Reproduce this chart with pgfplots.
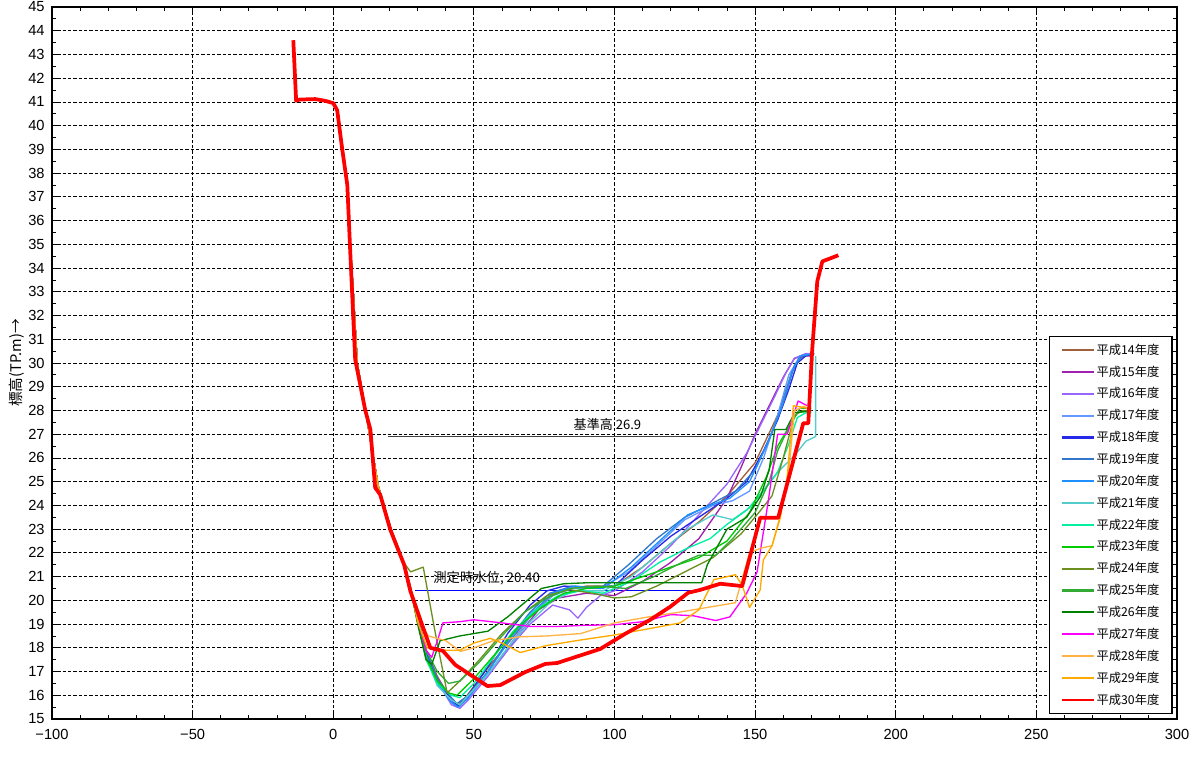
\documentclass[border=0pt]{standalone}
\usepackage{fontspec}
\setmainfont{Liberation Sans}
\newfontfamily\jp{Noto Sans CJK JP}
\usepackage{pgfplots}
\pgfplotsset{compat=1.18}
\definecolor{cA}{HTML}{A0603C}
\definecolor{cB}{HTML}{A020B0}
\definecolor{cC}{HTML}{9966FF}
\definecolor{cD}{HTML}{6699FF}
\definecolor{cE}{HTML}{2828E8}
\definecolor{cF}{HTML}{3377CC}
\definecolor{cG}{HTML}{1E90FF}
\definecolor{cH}{HTML}{55CCCC}
\definecolor{cI}{HTML}{00F0A0}
\definecolor{cJ}{HTML}{00CC00}
\definecolor{cK}{HTML}{6B9020}
\definecolor{cL}{HTML}{33AA33}
\definecolor{cM}{HTML}{008000}
\definecolor{cN}{HTML}{FF00FF}
\definecolor{cO}{HTML}{FFB347}
\definecolor{cP}{HTML}{FFAA00}
\definecolor{cQ}{HTML}{FF0000}
\begin{document}
\begin{tikzpicture}
\begin{axis}[
  scale only axis, width=843.75pt, height=534pt,
  xmin=-100, xmax=300, ymin=15, ymax=45,
  xtick={-100,-50,0,50,100,150,200,250,300},
  xticklabels={−100,−50,0,50,100,150,200,250,300},
  ytick={15,16,...,45},
  minor x tick num=4, minor y tick num=1,
  major tick length=4pt, minor tick length=3pt,
  tick style={black, line width=0.6pt},
  grid=major,
  major grid style={black, line width=0.6pt, dash pattern=on 2.4pt off 1.6pt},
  axis line style={black, line width=0.8pt},
  /pgf/number format/assume math mode=true,
  tick label style={font=\fontsize{11}{12}\selectfont},
  yticklabel style={xshift=-2pt},
  xticklabel style={yshift=-4pt},
  ylabel={\jp 標高(TP.m)→},
  ylabel style={font=\jp\fontsize{11}{12}\selectfont, yshift=-4pt},
  legend style={at={(rel axis cs:0.996,0.007)}, anchor=south east,
    draw=black, line width=0.8pt, fill=white,
    font=\jp\fontsize{9.2}{10}\selectfont,
    nodes={minimum height=16.4pt, inner ysep=0pt, inner xsep=1.5pt},
    row sep=0pt, inner xsep=8pt, inner ysep=2pt},
  legend cell align=left,
  legend image code/.code={\draw[line width=1.6pt,#1] (0pt,0pt) -- (24pt,0pt);},
  every axis plot/.append style={line width=1pt, line join=round},
]
% 基準高 and water level
\addplot[color=black!75, line width=1.1pt, forget plot] coordinates {(19.6,26.9)(150,26.9)};
\addplot[color=blue, line width=0.8pt, forget plot] coordinates {(29,20.4)(130,20.4)};

\addplot[color=cA] coordinates {(0,40.9)(1.5,40.6)(3,39.2)(5,37.6)(6,35)(7.2,32.8)(8.5,30)(11.5,28)(14,26.2)(16,24.8)(18,24.0)(20.5,23)(25,21.6)(27.5,20.5)
(30,19.4)(33,17.9)(37,16.8)(42,15.8)(44,15.6)(47,15.9)(52,16.7)(58,17.6)(65,18.6)(72,19.6)(80,20.4)(90,20.6)(100,20.6)(110,21.4)(120,22.4)(130,23.3)(140,24.4)(150,25.8)(158,27.8)(163,29.6)(166,30.2)(170,30.4)};
\addlegendentry{平成14年度}
\addplot[color=cB] coordinates {(0,40.9)(1.5,40.6)(3,39.2)(5,37.6)(6,35)(7.2,32.8)(8.5,30)(11.5,28)(14,26.2)(16,24.8)(18,24.0)(20.5,23)(25,21.6)(27.5,20.5)
(30,19.3)(33,17.8)(37,16.6)(42,15.7)(44.5,15.5)(48,15.9)(53,16.7)(60,17.6)(67,18.7)(73,19.6)(80,20.1)(90,20.3)(100,20.2)(110,20.8)(120,21.6)(130,22.6)(140,24.3)(145,25.6)(150,27.0)(155,28.2)(160,29.4)(164,30.2)(168,30.3)(170,30.3)};
\addlegendentry{平成15年度}
\addplot[color=cC] coordinates {(0,40.9)(1.5,40.6)(3,39.2)(5,37.6)(6,35)(7.2,32.8)(8.5,30)(11.5,28)(14,26.2)(16,24.8)(18,24.0)(20.5,23)(25,21.6)(27.5,20.5)
(30,19.3)(33,17.8)(37,16.6)(42,15.6)(45,15.45)(48,15.8)(55,16.8)(62,17.9)(70,19.0)(78,19.8)(84,19.6)(87,19.25)(90,19.7)(95,20.2)(100,20.4)(110,21.2)(120,22.3)(130,23.6)(140,24.9)(147,26.2)(152,27.4)(157,28.6)(161,29.6)(164,30.2)(168,30.4)(170,30.4)};
\addlegendentry{平成16年度}
\addplot[color=cD] coordinates {(0,40.9)(1.5,40.6)(3,39.2)(5,37.6)(6,35)(7.2,32.8)(8.5,30)(11.5,28)(14,26.2)(16,24.8)(18,24.0)(20.5,23)(25,21.6)(27.5,20.5)
(30,19.2)(33,17.7)(37,16.6)(42,15.7)(44.5,15.5)(48,15.9)(55,16.9)(62,18.0)(70,19.3)(78,20.2)(85,20.5)(95,20.5)(105,21.2)(115,22.3)(125,23.4)(135,24.0)(142,24.2)(148,24.6)(153,26.0)(158,27.8)(162,29.5)(166,30.3)(170,30.4)};
\addlegendentry{平成17年度}
\addplot[color=cE] coordinates {(0,40.9)(1.5,40.6)(3,39.2)(5,37.6)(6,35)(7.2,32.8)(8.5,30)(11.5,28)(14,26.2)(16,24.8)(18,24.0)(20.5,23)(25,21.6)(27.5,20.5)
(30,19.2)(33,17.8)(37,16.7)(42,15.8)(44.5,15.55)(48,16.0)(55,17.2)(62,18.6)(70,19.8)(76,20.4)(82,20.6)(92,20.55)(100,20.6)(110,21.7)(120,22.7)(130,23.5)(140,24.3)(147,25.0)(153,26.3)(158,27.6)(162,28.9)(165,30.0)(168,30.3)(171,30.4)};
\addlegendentry{平成18年度}
\addplot[color=cF] coordinates {(0,40.9)(1.5,40.6)(3,39.2)(5,37.6)(6,35)(7.2,32.8)(8.5,30)(11.5,28)(14,26.2)(16,24.8)(18,24.0)(20.5,23)(25,21.6)(27.5,20.5)
(30,19.2)(33,17.9)(37,16.7)(42,15.9)(44,15.65)(48,16.0)(55,17.0)(62,18.3)(70,19.5)(77,20.3)(85,20.6)(95,20.5)(105,21.5)(115,22.6)(125,23.5)(135,24.1)(143,24.6)(150,25.5)(155,26.8)(160,28.3)(164,29.9)(167,30.3)(171,30.4)};
\addlegendentry{平成19年度}
\addplot[color=cG] coordinates {(0,40.9)(1.5,40.6)(3,39.2)(5,37.6)(6,35)(7.2,32.8)(8.5,30)(11.5,28)(14,26.2)(16,24.8)(18,24.0)(20.5,23)(25,21.6)(27.5,20.5)
(30,19.1)(33,17.7)(37,16.5)(42,15.7)(44.5,15.5)(48,15.9)(55,17.0)(62,18.2)(70,19.4)(78,20.3)(86,20.6)(96,20.5)(106,21.4)(116,22.5)(126,23.6)(134,24.0)(141,24.3)(148,25.0)(154,26.5)(159,28.0)(163,29.6)(166,30.3)(171,30.4)};
\addlegendentry{平成20年度}
\addplot[color=cH] coordinates {(0,40.9)(1.5,40.6)(3,39.2)(5,37.6)(6,35)(7.2,32.8)(8.5,30)(11.5,28)(14,26.2)(16,24.8)(18,24.0)(20.5,23)(25,21.6)(27.5,20.5)
(30,19.1)(33,17.6)(37,16.4)(42,15.8)(45,15.6)(48,16.0)(55,16.9)(62,18.0)(70,19.1)(78,20.0)(86,20.4)(96,20.4)(106,21.0)(116,22.0)(126,23.0)(135,23.6)(142,23.4)(148,23.9)(154,24.8)(158,25.4)(164,26.1)(168,26.7)(171.5,26.9)(171.5,30.3)};
\addlegendentry{平成21年度}
\addplot[color=cI] coordinates {(0,40.9)(1.5,40.6)(3,39.2)(5,37.6)(6,35)(7.2,32.8)(8.5,30)(11.5,28)(14,26.2)(16,24.8)(18,24.0)(20.5,23)(25,21.6)(27.5,20.5)
(30,19.1)(33,17.5)(37,16.5)(42,16.0)(45,15.9)(50,16.5)(57,17.6)(64,18.7)(72,19.6)(80,20.2)(88,20.4)(96,20.3)(106,20.8)(116,21.6)(126,22.2)(134,22.6)(140,23.2)(147,23.8)(153,24.6)(158,25.4)(162,26.6)(165,27.7)(168,27.9)(170,27.9)};
\addlegendentry{平成22年度}
\addplot[color=cJ] coordinates {(0,40.9)(1.5,40.6)(3,39.2)(5,37.6)(6,35)(7.2,32.8)(8.5,30)(11.5,28)(14,26.2)(16,24.8)(18,24.0)(20.5,23)(25,21.6)(27.5,20.5)
(30,19.1)(33,17.6)(37,16.6)(41,16.1)(44,16.0)(50,16.7)(58,17.8)(66,18.9)(74,19.7)(82,20.3)(90,20.5)(100,20.6)(110,21.0)(120,21.4)(130,21.8)(140,22.5)(148,23.7)(154,25.2)(158,26.5)(162,27.3)(165,27.9)(170,28.0)};
\addlegendentry{平成23年度}
\addplot[color=cK] coordinates {(0,40.9)(1.5,40.6)(3,39.2)(5,37.6)(6,35)(7.2,32.8)(8.5,30)(11.5,28)(14,26.2)(16,24.8)(18,24.0)(20.5,23)(25,21.6)
(27.5,21.2)(32,21.4)(36,18.8)(40.5,16.1)(45,16.6)(52,17.5)(60,18.6)(68,19.5)(76,20.2)(84,20.45)(92,20.3)(100,20.1)(106,20.15)(115,20.6)(125,21.2)(135,21.8)(145,22.8)(152,23.8)(156,24.4)(160,26.0)(164,27.8)(167,28.0)(170,28.0)};
\addlegendentry{平成24年度}
\addplot[color=cL] coordinates {(0,40.9)(1.5,40.6)(3,39.2)(5,37.6)(6,35)(7.2,32.8)(8.5,30)(11.5,28)(14,26.2)(16,24.8)(18,24.0)(20.5,23)(25,21.6)(27.5,20.5)
(30,19.2)(33,17.9)(37,17.0)(41,16.5)(45,16.6)(52,17.4)(60,18.5)(68,19.5)(76,20.1)(84,20.5)(94,20.6)(104,20.5)(114,21.0)(124,21.6)(130,21.9)(136,21.9)(142,22.6)(150,23.7)(155,25.0)(158,26.3)(162,27.3)(166,28.1)(170,28.1)};
\addlegendentry{平成25年度}
\addplot[color=cM] coordinates {(0,40.9)(1.5,40.6)(3,39.2)(5,37.6)(6,35)(7.2,32.8)(8.5,30)(11.5,28)(14,26.2)(16,24.8)(18,24.0)(20.5,23)(25,21.6)(27.5,20.5)
(30,19.0)(33,17.5)(35,17.3)(38,18.3)(45,18.5)(55,18.7)(62,19.3)(68,19.9)(74,20.5)(82,20.7)(90,20.74)(131,20.74)(133,21.5)(140,23.0)(147,23.5)(152,24.4)(155,25.5)(157,27.2)(161,27.2)(164,27.9)(170,28.0)};
\addlegendentry{平成26年度}
\addplot[color=cN] coordinates {(0,40.9)(1.5,40.6)(3,39.2)(5,37.6)(6,35)(7.2,32.8)(8.5,30)(11.5,28)(14,26.2)(16,24.8)(18,24.0)(20.5,23)(25,21.6)(27.5,20.5)
(30,19.2)(33,17.9)(35,17.6)(37.3,18.4)(39,19.05)(45,19.1)(50,19.18)(60,19.05)(70,18.9)(80,18.9)(90,18.95)(100,18.97)(110,19.1)(120,19.4)(128,19.35)(136,19.15)(141,19.3)(147,20.3)(150.7,21.2)(154.7,24.2)(158,27.0)(161.4,27.0)(165.3,28.4)(168.5,28.2)};
\addlegendentry{平成27年度}
\addplot[color=cO] coordinates {(0,40.9)(1.5,40.6)(3,39.2)(5,37.6)(6,35)(7.2,32.8)(8.5,30)(11.5,28)(14,26.2)(16,24.8)(18,24.0)(20.5,23)(25,21.6)(27.5,20.5)
(30,19.2)(33.8,18.5)(40,18.3)(45.2,17.85)(50,18.0)(57,18.3)(66,18.46)(76,18.5)(88,18.6)(100,19.05)(112,19.3)(123,19.5)(133,19.7)(143,19.9)(148,22.0)(152,22.2)(156,22.3)(159,23.6)(162,25.5)(164,28.0)(168,28.2)};
\addlegendentry{平成28年度}
\addplot[color=cP] coordinates {(0,40.9)(1.5,40.6)(3,39.2)(5,37.6)(6,35)(7.2,32.8)(8.5,30)(11.5,28)(14,26.2)(16,24.8)(18,24.0)(20.5,23)(25,21.6)(27.5,20.5)
(30,19.1)(33.4,18.0)(40,17.9)(45,17.9)(50,18.2)(55.8,18.4)(60,18.2)(66.5,17.8)(76,18.1)(88,18.33)(100,18.54)(112,18.8)(123.4,19.05)(130,19.6)(135.3,20.87)(143,21.08)(145.5,20.6)(148,19.7)(151.8,20.44)(152.9,21.7)(156,22.3)(159,23.5)(161.4,25.2)(163.6,28.2)(168.5,28.1)};
\addlegendentry{平成29年度}
\addplot[color=cQ, line width=2.8pt] coordinates {(-14.2,43.6)(-13.2,41.05)(-12,41.1)(-6.4,41.12)(-3,41.05)(0,40.95)(1.4,40.65)(3.2,39.0)(5,37.5)(6,34.8)(7.8,30.15)(11.4,28.0)(13.2,27.2)(14.9,24.75)(16.7,24.45)(20.3,22.97)(25.2,21.5)(27.4,20.4)(30.9,19.2)(34.5,18.0)(39,17.87)(43.4,17.28)(54.8,16.39)(59.4,16.43)(68.3,16.98)(75.4,17.32)(79.6,17.36)(94.9,17.95)(103.8,18.59)(112.7,19.18)(119.8,19.73)(126.2,20.32)(130.5,20.44)(137.6,20.7)(145.4,20.6)(151.8,23.48)(158.2,23.48)(167.1,27.46)(168.9,27.46)(170.3,30.57)(172.1,33.44)(173.9,34.28)(179.6,34.54)};
\addlegendentry{平成30年度}

\node[font=\jp\fontsize{9.8}{11}\selectfont] at (axis cs:97.5,27.4) {基準高 26.9};
\node[font=\jp\fontsize{10}{11}\selectfont, anchor=west, inner sep=0pt] at (axis cs:35.5,20.95) {測定時水位, 20.40};
\node[font=\jp\fontsize{11}{12}\selectfont] at (rel axis cs:0.956,-0.053) {距離(m)→};
\node[font=\jp\fontsize{12}{13}\selectfont, anchor=base east, inner sep=0pt] at ([yshift=2.5pt]rel axis cs:0.9938,1) {測点No.9+150 (2017/06)};
\draw[black, line width=1.6pt] (rel axis cs:0,1) -- (rel axis cs:0,0) -- (rel axis cs:1,0);
\end{axis}
\pgfresetboundingbox
\path (current axis.south west) ++(-39pt,-37.5pt) coordinate (bl);
\useasboundingbox (bl) rectangle ++(897pt,576.75pt);
\end{tikzpicture}
\end{document}
